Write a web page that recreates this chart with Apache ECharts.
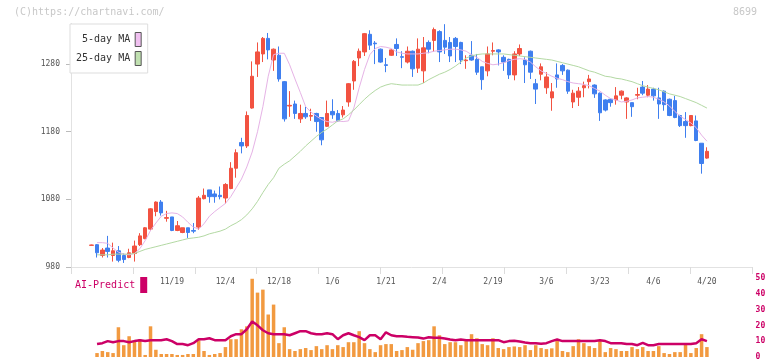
<!DOCTYPE html>
<html><head><meta charset="utf-8">
<script src="https://cdn.jsdelivr.net/npm/echarts@6/dist/echarts.min.js"></script>
<style>html,body{margin:0;padding:0;background:#fff}#c{width:772px;height:361px}</style>
</head><body><div id="c"></div>
<script>
// date labels shown every 10 trading days, starting at candle index 15
const tickLabels = ['11/19','12/4','12/18','1/6','1/21','2/4','2/19','3/6','3/23','4/6','4/20'];
const firstLabelIndex = 15;
const labelStep = 10;

// [open, close, low, high]
const candles = [
[1012,1012.5,1012,1013],[1013,1001,994,1014],[997,1005,994,1008],[1008,1003,994,1026],[997,1004,988,1016],
[1004,990,987,1011],[997,991,986,1000],[994,1001,993,1007],[1000,1011,988,1019],[1013,1026,1011,1030],
[1022,1038,1021,1039],[1036,1066,1034,1067],[1062,1076,1055,1077],[1076,1060,1056,1079],[1052,1053,1047,1063],
[1054,1034,1033,1054],[1034,1041,1033,1048],[1031,1038,1030,1038],[1038,1031,1023,1038],[1034,1033,1030,1045],
[1039,1082,1035,1085],[1081,1086,1080,1096],[1094,1084,1075,1094],[1088,1084,1075,1093],[1086,1084,1080,1099],
[1082,1102,1074,1104],[1096,1126,1095,1135],[1126,1149,1112,1154],[1164,1159,1148,1171],[1159,1204,1156,1210],
[1215,1262,1214,1284],[1280,1298,1261,1312],[1295,1318,1283,1320],[1318,1301,1287,1326],[1286,1302,1270,1303],
[1293,1258,1254,1306],[1254,1199,1195,1255],[1218,1219,1202,1240],[1221,1207,1199,1226],[1199,1207,1193,1220],
[1207,1202,1199,1217],[1203,1204,1196,1214],[1207,1195,1180,1208],[1201,1168,1160,1201],[1188,1207,1187,1226],
[1210,1205,1199,1228],[1207,1196,1195,1212],[1205,1212,1201,1218],[1224,1251,1217,1252],[1255,1284,1242,1286],
[1289,1299,1277,1303],[1298,1325,1292,1326],[1324,1308,1301,1330],[1311,1310,1280,1314],[1302,1283,1282,1303],
[1279,1278,1268,1289],[1293,1301,1292,1302],[1309,1303,1292,1318],[1291,1290,1274,1299],[1283,1299,1281,1306],
[1299,1273,1261,1300],[1274,1302,1267,1318],[1270,1304,1252,1320],[1312,1302,1296,1315],[1315,1331,1298,1334],
[1328,1298,1283,1330],[1315,1305,1295,1339],[1312,1292,1283,1320],[1318,1306,1283,1320],[1312,1286,1280,1313],
[1285,1286,1273,1293],[1293,1286,1285,1314],[1287,1268,1264,1295],[1276,1257,1242,1276],[1270,1295,1262,1306],
[1299,1300,1293,1312],[1301,1298,1278,1302],[1290,1283,1270,1293],[1287,1264,1258,1288],[1264,1295,1256,1299],
[1295,1303,1292,1309],[1286,1279,1252,1290],[1299,1268,1258,1300],[1251,1243,1221,1258],[1265,1276,1256,1281],
[1245,1261,1236,1268],[1230,1239,1211,1252],[1264,1258,1245,1281],[1278,1270,1264,1280],[1271,1240,1236,1272],
[1224,1237,1215,1242],[1231,1240,1218,1246],[1245,1248,1231,1254],[1254,1258,1244,1264],[1249,1236,1230,1250],
[1237,1208,1196,1238],[1227,1212,1210,1228],[1228,1223,1217,1229],[1227,1233,1220,1246],[1234,1240,1228,1241],
[1224,1230,1199,1231],[1223,1217,1202,1223],[1234,1235,1228,1245],[1246,1237,1234,1255],[1234,1243,1231,1249],
[1243,1233,1226,1245],[1230,1221,1199,1245],[1240,1220,1211,1241],[1228,1204,1203,1229],[1226,1201,1200,1233],
[1204,1189,1187,1205],[1195,1189,1171,1209],[1189,1204,1188,1204],[1196,1167,1166,1204],[1163,1133,1118,1163],
[1141,1151,1140,1157]
];

const ma5 = [null,1016,1016,1015,1008,1002,999,998,1000,1007,
1019,1034,1045,1055,1059,1060,1059,1054,1046,1039,
1036,1044,1055,1062,1068,1074,1084,1097,1110,1128,
1150,1180,1217,1262,1294,1296,1296,1279,1258,1238,
1217,1209,1203,1198,1195,1194,1196,1195,1196,1215,
1245,1272,1294,1303,1306,1305,1303,1298,1296,1295,
1295,1295,1296,1297,1299,1300,1301,1302,1302,1301,
1299,1294,1290,1284,1281,1279,1280,1282,1285,1287,
1288,1287,1283,1276,1270,1266,1262,1259,1257,1254,
1252,1251,1250,1248,1244,1240,1234,1229,1227,1224,
1225,1227,1230,1231,1232,1231,1228,1224,1218,1210,
1203,1198,1193,1186,1175,1166];

const ma25 = [null,998,998,998,999,999,999,999,1000,1003,
1006,1008,1010,1012,1014,1016,1018,1020,1022,1023,
1024,1026,1029,1031,1033,1036,1041,1045,1050,1057,
1066,1077,1090,1102,1112,1126,1132,1137,1144,1151,
1159,1166,1173,1179,1184,1190,1196,1199,1205,1212,
1220,1228,1235,1241,1246,1249,1251,1250,1249,1249,
1249,1249,1252,1257,1261,1265,1268,1272,1277,1283,
1289,1292,1294,1295,1295,1295,1295,1295,1294,1293,
1292,1291,1290,1289,1288,1287,1286,1284,1282,1280,
1278,1276,1273,1270,1268,1265,1262,1261,1259,1258,
1256,1254,1251,1248,1246,1244,1242,1239,1236,1234,
1232,1229,1226,1223,1219,1215];

const volume = [null,
2.5,3.8,3.1,2.5,18.9,7.5,13.2,10.7,11.3,1.3,
19.5,4.6,1.9,1.9,1.9,1.3,1.3,1.9,1.9,10.7,
3.8,1.3,1.9,2.5,6.3,11.3,11.3,17.6,19.5,49.7,
40.9,42.8,27.0,33.3,8.8,18.9,5.0,3.8,5.0,5.7,
4.4,6.9,5.0,7.5,5.0,7.5,6.3,9.4,9.4,16.4,
8.8,5.0,3.1,7.5,8.2,
8.2,3.8,4.4,6.3,4.6,8.8,10.1,10.7,19.5,13.8,
8.2,9.4,9.4,7.5,10.1,14.5,11.9,8.2,7.5,11.9,
5.7,5.0,6.3,6.7,6.3,7.5,4.4,7.5,5.7,5.0,
5.5,10.7,3.8,3.1,6.9,11.3,8.8,6.9,5.7,10.1,
3.1,5.7,5.0,3.8,3.8,6.3,5.0,6.3,3.8,3.8,
6.9,2.5,1.9,3.1,3.1,8.2,2.5,5.7,14.5,6.3];

const aiPredict = [null,
8.2,8.8,10.1,9.4,10.1,10.1,9.4,10.1,10.7,10.1,
10.7,10.7,10.7,11.3,10.1,8.2,8.2,7.5,8.8,11.3,
11.3,11.9,10.7,10.7,10.7,13.2,14.5,14.5,17.6,22.6,
20.1,17.0,15.1,14.5,14.5,14.5,13.8,15.1,16.4,16.4,
15.1,14.5,14.5,15.1,14.5,11.3,13.8,15.1,13.8,12.6,
10.7,13.8,13.8,11.3,15.7,
13.8,13.2,13.2,12.8,12.6,12.4,11.7,12.6,12.2,12.2,
11.7,11.1,10.7,11.1,10.7,10.7,10.7,10.7,10.7,10.7,
10.7,9.4,10.1,10.3,9.9,9.2,8.8,8.8,8.4,8.8,
10.1,11.1,10.1,10.1,10.1,10.1,10.1,10.1,10.1,10.7,
10.1,8.8,8.8,8.8,8.2,8.2,7.5,9.0,7.5,7.5,
8.2,8.2,8.2,8.2,8.2,8.2,8.2,8.8,11.3,10.1];

const priceTicks = [980,1080,1180,1280];
const categories = candles.map((_, i) => 'd' + i);

const FONT = 'DejaVu Sans Mono';
const UP = '#f25241', DOWN = '#3f7fef';
const chart = echarts.init(document.getElementById('c'));
chart.setOption({
  animation: false,
  backgroundColor: '#fff',
  graphic: [
    {type:'text', left:14, top:7, style:{text:'(C)https://chartnavi.com/', fill:'#c8c8c8', font:'10px "DejaVu Sans Mono"'}},
    {type:'text', right:15, top:7, style:{text:'8699', fill:'#c8c8c8', font:'10px "DejaVu Sans Mono"'}}
  ],
  legend: [
    {left:70, top:24, orient:'vertical', align:'right', icon:'rect', itemWidth:6, itemHeight:14, itemGap:4,
     padding:[8,6,7,6], borderColor:'#ddd', borderWidth:1, backgroundColor:'#fff', selectedMode:false, z:10,
     textStyle:{fontFamily:FONT, fontSize:10, color:'#333', width:55, align:'right'},
     itemStyle:{borderColor:'#555', borderWidth:1},
     data:[{name:'5-day MA', itemStyle:{color:'#f0c0f0'}}, {name:'25-day MA', itemStyle:{color:'#c0e0b0'}}]},
    {left:75, top:277, orient:'horizontal', align:'right', icon:'rect', itemWidth:7, itemHeight:16, padding:0,
     selectedMode:false, textStyle:{fontFamily:FONT, fontSize:10, color:'#cc0066'},
     data:[{name:'AI-Predict', itemStyle:{color:'#cc0066'}}]}
  ],
  grid: [
    {left:71, width:681, top:23.5, height:243.5},
    {left:89, width:620.6, top:23.5, height:243.5},
    {left:89, width:620.6, top:278.3, height:79.4}
  ],
  xAxis: [
    {type:'value', gridIndex:0, min:0, max:11, interval:1,
     axisLine:{lineStyle:{color:'#e2e2e2'}}, axisTick:{length:7, lineStyle:{color:'#dcdcdc'}},
     axisLabel:{show:false}, splitLine:{show:false}},
    {type:'category', gridIndex:1, data:categories, boundaryGap:true,
     axisLine:{show:false}, axisTick:{show:false}, splitLine:{show:false},
     axisLabel:{interval:0, color:'#555', fontFamily:FONT, fontSize:8, margin:11,
       formatter:(v, i) => { const k = i - firstLabelIndex; return (k >= 0 && k % labelStep === 0) ? (tickLabels[k / labelStep] || '') : ''; }}},
    {type:'category', gridIndex:2, data:categories, boundaryGap:true, show:false}
  ],
  yAxis: [
    {type:'value', gridIndex:0, min:980, max:1340, interval:100,
     axisLine:{show:true, lineStyle:{color:'#e2e2e2'}},
     axisTick:{show:true, length:5, lineStyle:{color:'#bbb'}, customValues:priceTicks},
     axisLabel:{color:'#555', fontFamily:FONT, fontSize:8, margin:11, customValues:priceTicks,
       formatter:(v) => String(v)},
     splitLine:{show:false}},
    {type:'value', gridIndex:1, min:980, max:1340, show:false, splitLine:{show:false}},
    {type:'value', gridIndex:2, min:0, max:50, interval:10, position:'right', offset:42,
     axisLine:{show:false}, axisTick:{show:false}, splitLine:{show:false},
     axisLabel:{color:'#cc0066', fontWeight:'bold', fontFamily:FONT, fontSize:8, margin:4}}
  ],
  series: [
    {type:'candlestick', name:'price', xAxisIndex:1, yAxisIndex:1, data:candles, barWidth:4,
     itemStyle:{color:UP, color0:DOWN, borderColor:UP, borderColor0:DOWN, borderWidth:1}},
    {type:'line', name:'5-day MA', xAxisIndex:1, yAxisIndex:1, data:ma5, showSymbol:false, symbol:'none',
     lineStyle:{color:'#e6b3e6', width:1}, itemStyle:{color:'#e6b3e6'}},
    {type:'line', name:'25-day MA', xAxisIndex:1, yAxisIndex:1, data:ma25, showSymbol:false, symbol:'none',
     lineStyle:{color:'#b3d9a3', width:1}, itemStyle:{color:'#b3d9a3'}},
    {type:'bar', name:'volume', xAxisIndex:2, yAxisIndex:2, data:volume, barWidth:3.5,
     itemStyle:{color:'#f29a40'}},
    {type:'line', name:'AI-Predict', xAxisIndex:2, yAxisIndex:2, data:aiPredict, showSymbol:false, symbol:'none',
     lineStyle:{color:'#cc0066', width:2.5}, itemStyle:{color:'#cc0066'}}
  ]
});
</script></body></html>
